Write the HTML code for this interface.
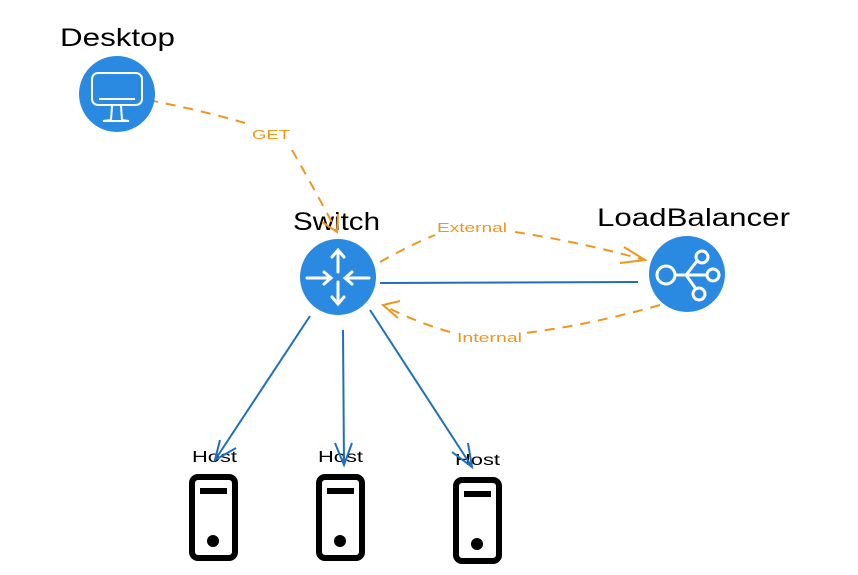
<!DOCTYPE html>
<html><head><meta charset="utf-8"><style>
html,body{margin:0;padding:0;background:#fff;width:858px;height:575px;overflow:hidden}
text{font-family:"Comic Sans MS","Liberation Sans",sans-serif}
</style></head><body>
<svg width="858" height="575" viewBox="0 0 858 575" xmlns="http://www.w3.org/2000/svg">
<g fill="#000" font-size="25">
<text x="60" y="46" textLength="115" lengthAdjust="spacingAndGlyphs">Desktop</text>
<text x="293" y="230" textLength="87" lengthAdjust="spacingAndGlyphs">Switch</text>
<text x="597" y="226" textLength="193" lengthAdjust="spacingAndGlyphs">LoadBalancer</text>
</g>
<g fill="#000" font-size="16">
<text x="192" y="462" textLength="45" lengthAdjust="spacingAndGlyphs">Host</text>
<text x="318" y="462" textLength="45" lengthAdjust="spacingAndGlyphs">Host</text>
<text x="455" y="465" textLength="45" lengthAdjust="spacingAndGlyphs">Host</text>
</g>
<!-- orange dashed -->
<g stroke="#f0961e" stroke-width="2" fill="none" stroke-dasharray="10,8">
<path d="M148 100 Q200 110 245 123"/>
<path d="M292 150 Q315 190 337 232"/>
<path d="M380 262 Q410 245 435 235"/>
<path d="M515 232 Q580 242 645 260"/>
<path d="M660 305 Q590 325 525 333"/>
<path d="M450 332 Q415 322 383 305"/>
</g>
<g stroke="#f0961e" stroke-width="2" fill="none">
<path d="M322 222 L337 232 L338 214"/>
<path d="M624 247 L645 260 L620 263"/>
<path d="M400 301 L383 305 L398 318"/>
</g>
<g fill="#f0961e" font-size="13">
<text x="252" y="139" textLength="38" lengthAdjust="spacingAndGlyphs">GET</text>
<text x="437" y="232" textLength="70" lengthAdjust="spacingAndGlyphs">External</text>
<text x="457" y="342" textLength="65" lengthAdjust="spacingAndGlyphs">Internal</text>
</g>
<!-- blue lines -->
<g stroke="#1e6fc0" stroke-width="2" fill="none">
<path d="M380 283 L638 282"/>
<path d="M310 316 L215 460"/>
<path d="M220 440 L215 460 L236 448"/>
<path d="M343 330 L344 465"/>
<path d="M335 443 L344 465 L352 443"/>
<path d="M370 310 L472 467"/>
<path d="M452 452 L472 467 L468 443"/>
</g>
<!-- circles -->
<circle cx="117" cy="94" r="38" fill="#2a8ae2"/>
<g stroke="#fff" stroke-width="2" fill="none">
<rect x="92" y="73" width="50" height="32" rx="6"/>
<line x1="99" y1="99" x2="135" y2="99"/>
<path d="M112 106 L111 120 L103 121 L129 121 L122 120 L121 106"/>
</g>
<circle cx="338" cy="277" r="38" fill="#2a8ae2"/>
<g stroke="#fff" stroke-width="3" fill="none" stroke-linecap="round">
<path d="M338 250 L338 272 M332 257 L338 250 L344 257"/>
<path d="M338 282 L338 304 M332 297 L338 304 L344 297"/>
<path d="M307 278 L331 278 M324 272 L331 278 L324 284"/>
<path d="M369 278 L345 278 M352 272 L345 278 L352 284"/>
</g>
<circle cx="687" cy="274" r="38" fill="#2a8ae2"/>
<g stroke="#fff" stroke-width="3" fill="none">
<circle cx="666" cy="275" r="9"/>
<circle cx="702" cy="257" r="6"/>
<circle cx="713" cy="275" r="6"/>
<circle cx="699" cy="294" r="6"/>
<path d="M675 275 L707 275 M686 275 L697 261 M686 275 L696 289"/>
</g>
<!-- hosts -->
<g fill="none" stroke="#000" stroke-width="6">
<rect x="192" y="477" width="43" height="81" rx="6"/>
<rect x="319" y="477" width="43" height="81" rx="6"/>
<rect x="456" y="480" width="43" height="81" rx="6"/>
</g>
<g fill="#000">
<rect x="200" y="488" width="27" height="6"/><circle cx="213" cy="541" r="6"/>
<rect x="327" y="488" width="27" height="6"/><circle cx="340" cy="541" r="6"/>
<rect x="464" y="491" width="27" height="6"/><circle cx="477" cy="544" r="6"/>
</g>
</svg>
</body></html>
